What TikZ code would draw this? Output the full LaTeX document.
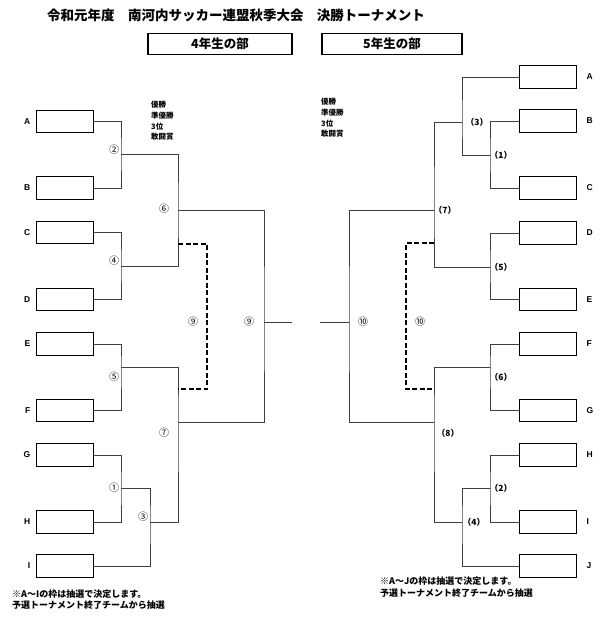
\documentclass[tikz,border=0pt]{standalone}
\usepackage{fontspec}
\setmainfont{Noto Sans CJK JP}
\newfontfamily\lat{Liberation Sans}
\usetikzlibrary{positioning}

\begin{document}
\begin{tikzpicture}[x=1pt,y=-1pt,node distance=4pt,
                    team/.style={draw,line width=0.9pt,minimum width=57pt,minimum height=22.5pt,inner sep=0pt},
                    tag/.style={font=\lat\bfseries\fontsize{8.5}{9}\selectfont,inner sep=0pt},
                    mnum/.style={font=\fontsize{10}{10}\selectfont,inner sep=0pt},
                    pnum/.style={font=\bfseries\fontsize{8.5}{9}\selectfont,inner sep=0pt},
                    head/.style={draw,line width=1.4pt,minimum height=21pt,font=\bfseries\fontsize{12.5}{12}\selectfont},
                    note/.style={align=left,inner sep=0pt,anchor=north west},
                    bar/.style={draw=black!75,line width=1pt},
                    loser/.style={draw=black,line width=1.6pt,dash pattern=on 5pt off 2.5pt}]

  \useasboundingbox (0,0) rectangle (600,619);

  \node[font=\bfseries\fontsize{13.5}{13}\selectfont] (title) at (236,15)
    {令和元年度\hspace{1em}南河内サッカー連盟秋季大会\hspace{1em}決勝トーナメント};
  \node[head,minimum width=144pt] (h4) at (220,44) {4年生の部};
  \node[head,minimum width=140pt] (h5) at (392,44) {5年生の部};

  % 4年生
  \node[team] (lA) at (64.5,121.5) {};
  \node[team] (lB) at (64.5,188)   {};
  \node[team] (lC) at (64.5,232.5) {};
  \node[team] (lD) at (64.5,299.5) {};
  \node[team] (lE) at (64.5,344)   {};
  \node[team] (lF) at (64.5,410.5) {};
  \node[team] (lG) at (64.5,455)   {};
  \node[team] (lH) at (64.5,522)   {};
  \node[team] (lI) at (64.5,566)   {};
  \foreach \t in {A,B,C,D,E,F,G,H,I}
    \node[tag,left=5pt of l\t] {\t};

  \coordinate (m2) at (121,154);
  \coordinate (m4) at (121,266);
  \coordinate (m5) at (121,367);
  \coordinate (m1) at (121,488);
  \coordinate (m3) at (150,522);
  \coordinate (m6) at (178,210);
  \coordinate (m7) at (178,422);
  \coordinate (m9) at (264,322);
  \coordinate (f4) at (292,322);

  \path[bar] (lA.east) -| (m2) |- (lB.east)
             (lC.east) -| (m4) |- (lD.east)
             (lE.east) -| (m5) |- (lF.east)
             (lG.east) -| (m1) |- (lH.east)
             (m1) -| (m3) |- (lI.east)
             (m2) -| (m6) |- (m4)
             (m5) -| (m7) |- (m3)
             (m6) -| (m9) |- (m7)
             (m9) -- (f4);

  \coordinate (ld1) at (178,244);
  \coordinate (ld2) at (207,389);
  \coordinate (ld3) at (178,389);
  \draw[loser] (ld1) -| (ld2) -- (ld3);

  \node[mnum] (n2) at (114,150) {②};
  \node[mnum] (n4) at (114,261) {④};
  \node[mnum] (n5) at (114,377) {⑤};
  \node[mnum] (n1) at (114,488) {①};
  \node[mnum] (n3) at (143,517) {③};
  \node[mnum] (n6) at (164,209) {⑥};
  \node[mnum] (n7) at (164,433) {⑦};
  \node[mnum] (n9a) at (193,322) {⑨};
  \node[mnum] (n9b) at (249,322) {⑨};

  \node[note,font=\bfseries\fontsize{7.5}{10.7}\selectfont] (p4) at (151,101)
    {優勝\\準優勝\\3位\\敢闘賞};
  \node[note,font=\bfseries\fontsize{9}{10.5}\selectfont] (c4) at (12,590)
    {※A～Iの枠は抽選で決定します。\\予選トーナメント終了チームから抽選};

  % 5年生
  \node[team] (rA) at (547.5,77)    {};
  \node[team] (rB) at (547.5,121)   {};
  \node[team] (rC) at (547.5,188)   {};
  \node[team] (rD) at (547.5,233)   {};
  \node[team] (rE) at (547.5,299.5) {};
  \node[team] (rF) at (547.5,344)   {};
  \node[team] (rG) at (547.5,410.5) {};
  \node[team] (rH) at (547.5,455)   {};
  \node[team] (rI) at (547.5,522)   {};
  \node[team] (rJ) at (547.5,566)   {};
  \foreach \t in {A,B,C,D,E,F,G,H,I,J}
    \node[tag,right=10pt of r\t] {\t};

  \coordinate (r1) at (490,155);
  \coordinate (r5) at (490,267);
  \coordinate (r6) at (490,367);
  \coordinate (r2) at (490,488);
  \coordinate (r3) at (462,122);
  \coordinate (r4) at (462,522);
  \coordinate (r7) at (434,210);
  \coordinate (r8) at (434,422);
  \coordinate (r10) at (349,322);
  \coordinate (f5) at (320,322);

  \path[bar] (rB.west) -| (r1) |- (rC.west)
             (rA.west) -| (r3) |- (r1)
             (rD.west) -| (r5) |- (rE.west)
             (rF.west) -| (r6) |- (rG.west)
             (rH.west) -| (r2) |- (rI.west)
             (r2) -| (r4) |- (rJ.west)
             (r3) -| (r7) |- (r5)
             (r6) -| (r8) |- (r4)
             (r7) -| (r10) |- (r8)
             (r10) -- (f5);

  \coordinate (rd1) at (434,243);
  \coordinate (rd2) at (406,389);
  \coordinate (rd3) at (434,389);
  \draw[loser] (rd1) -| (rd2) -- (rd3);

  \node[pnum] (q3) at (477,122) {（3）};
  \node[pnum] (q1) at (501,155) {（1）};
  \node[pnum] (q7) at (445,210) {（7）};
  \node[pnum] (q5) at (501,267) {（5）};
  \node[pnum] (q6) at (501,377) {（6）};
  \node[pnum] (q8) at (448,433) {（8）};
  \node[pnum] (q2) at (501,488) {（2）};
  \node[pnum] (q4) at (474,522) {（4）};
  \node[mnum] (n10b) at (363,322) {⑩};
  \node[mnum] (n10a) at (420,322) {⑩};

  \node[note,font=\bfseries\fontsize{7.5}{10.7}\selectfont] (p5) at (321,98)
    {優勝\\準優勝\\3位\\敢闘賞};
  \node[note,font=\bfseries\fontsize{9}{11.5}\selectfont] (c5) at (380,577)
    {※A～Jの枠は抽選で決定します。\\予選トーナメント終了チームから抽選};
\end{tikzpicture}
\end{document}
